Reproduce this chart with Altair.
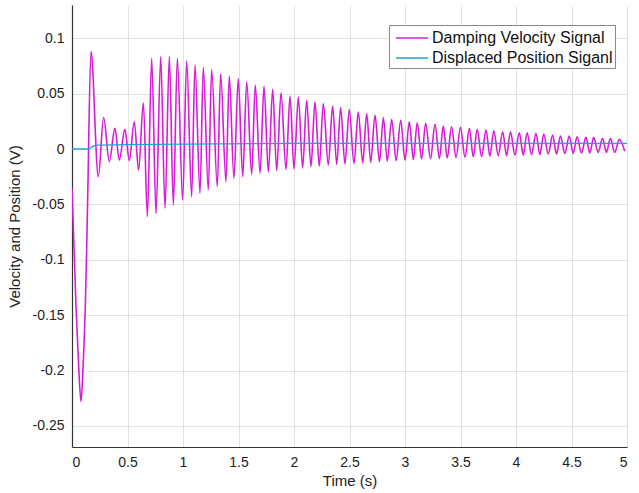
import altair as alt
import pandas as pd

# ---- Damping velocity signal ----
# initial transient
start_t = [0.0, 0.036, 0.06, 0.081, 0.10, 0.12, 0.132, 0.141, 0.171]
start_v = [-0.035, -0.142, -0.196, -0.228, -0.196, -0.142, -0.091, -0.046, 0.088]

# small early oscillation
early_t = [0.237, 0.285, 0.336, 0.387, 0.426, 0.477, 0.516, 0.561, 0.600, 0.643]
early_v = [-0.025, 0.0285, -0.0114, 0.0186, -0.010, 0.0177, -0.0105, 0.0246, -0.019, 0.0417]

# peaks of the decaying oscillation
peak_t = [0.718, 0.799, 0.877, 0.949, 1.033, 1.108, 1.183, 1.258, 1.339, 1.417,
          1.498, 1.574, 1.651, 1.730, 1.808, 1.883, 1.964, 2.039, 2.114, 2.189,
          2.264, 2.348, 2.420, 2.498, 2.579, 2.655, 2.730, 2.805, 2.880, 2.961,
          3.039, 3.110, 3.186, 3.270, 3.345, 3.420, 3.500, 3.580, 3.650, 3.730,
          3.800, 3.880, 3.950, 4.030, 4.100, 4.180, 4.250, 4.330, 4.400, 4.480,
          4.550, 4.630, 4.700, 4.780, 4.850, 4.930]
peak_v = [0.0817, 0.0832, 0.0832, 0.0817, 0.0796, 0.0757, 0.0736, 0.0718, 0.0682, 0.0658,
          0.0637, 0.0607, 0.0577, 0.0568, 0.0538, 0.0507, 0.0477, 0.0470, 0.0440, 0.0426,
          0.0410, 0.0387, 0.0375, 0.0357, 0.0336, 0.0321, 0.0306, 0.0285, 0.0267, 0.0260,
          0.0246, 0.0237, 0.0231, 0.0222, 0.0207, 0.0201, 0.0195, 0.0186, 0.0177, 0.0171,
          0.0165, 0.0156, 0.0156, 0.0147, 0.0147, 0.0141, 0.0135, 0.0126, 0.0117, 0.0117,
          0.0111, 0.0105, 0.0105, 0.0096, 0.0096, 0.0087]

# troughs of the decaying oscillation
trough_t = [0.679, 0.757, 0.838, 0.913, 0.997, 1.078, 1.153, 1.228, 1.309, 1.387,
            1.459, 1.538, 1.619, 1.694, 1.769, 1.844, 1.928, 2.000, 2.078, 2.153,
            2.228, 2.309, 2.385, 2.459, 2.540, 2.619, 2.691, 2.770, 2.840, 2.920,
            3.000, 3.075, 3.150, 3.230, 3.310, 3.380, 3.460, 3.540, 3.615, 3.690,
            3.765, 3.840, 3.915, 3.990, 4.065, 4.140, 4.215, 4.290, 4.365, 4.440,
            4.515, 4.590, 4.665, 4.740, 4.815, 4.890, 4.980]
trough_v = [-0.061, -0.058, -0.0535, -0.0505, -0.046, -0.043, -0.040, -0.037, -0.034, -0.0295,
            -0.0264, -0.025, -0.023, -0.022, -0.021, -0.0195, -0.0185, -0.018, -0.017, -0.016,
            -0.0155, -0.0145, -0.014, -0.0135, -0.013, -0.0125, -0.012, -0.0115, -0.011, -0.0105,
            -0.010, -0.0095, -0.009, -0.0088, -0.0085, -0.008, -0.0078, -0.0075, -0.007, -0.0068,
            -0.0065, -0.006, -0.006, -0.0055, -0.0055, -0.005, -0.005, -0.0045, -0.0045, -0.004,
            -0.004, -0.0035, -0.0035, -0.003, -0.003, -0.003, -0.002]

# ---- Displaced position signal ----
pos_t = [0.0, 0.15, 0.18, 0.22, 0.5, 1.0, 2.0, 3.0, 4.0, 5.0]
pos_v = [0.0, 0.0, 0.002, 0.0035, 0.004, 0.0045, 0.005, 0.005, 0.005, 0.005]

S1 = "Damping Velocity Signal"
S2 = "Displaced Position Siganl"

vel = pd.DataFrame({
    "t": start_t + early_t + peak_t + trough_t,
    "v": start_v + early_v + peak_v + trough_v,
}).sort_values("t").reset_index(drop=True)
vel["series"] = S1
vel["order"] = range(len(vel))

pos = pd.DataFrame({"t": pos_t, "v": pos_v})
pos["series"] = S2
pos["order"] = range(len(pos))

FONT = "Liberation Sans"

x = alt.X("t:Q", title="Time (s)",
          scale=alt.Scale(domain=[0, 5], nice=False),
          axis=alt.Axis(values=[0, 0.5, 1, 1.5, 2, 2.5, 3, 3.5, 4, 4.5, 5],
                        labelExpr="toString(datum.value)"))
y = alt.Y("v:Q", title="Velocity and Position (V)",
          scale=alt.Scale(domain=[-0.269, 0.130], nice=False, zero=False),
          axis=alt.Axis(values=[-0.25, -0.2, -0.15, -0.1, -0.05, 0, 0.05, 0.1],
                        labelExpr="toString(round(datum.value*100)/100)"))
color = alt.Color("series:N",
                  scale=alt.Scale(domain=[S1, S2], range=["#d81bd8", "#1fa3d8"]),
                  legend=alt.Legend(title=None, orient="none", legendX=317, legendY=20,
                                    symbolType="M-0.6,0H2.6", symbolSize=400,
                                    symbolStrokeWidth=1.5,
                                    labelFont=FONT, labelFontSize=16, labelColor="#111",
                                    labelLimit=400,
                                    strokeColor="#888", fillColor="white",
                                    padding=2, rowPadding=1, labelOffset=19,
                                    cornerRadius=0))

line_vel = alt.Chart(vel).mark_line(interpolate="monotone", strokeWidth=1.6, clip=True).encode(
    x=x, y=y, color=color, order="order:Q")
line_pos = alt.Chart(pos).mark_line(strokeWidth=1.3, clip=True).encode(
    x=x, y=y, color=color, order="order:Q")

chart = alt.layer(line_vel, line_pos).properties(
    width=555, height=442,
    autosize=alt.AutoSizeParams(type="none"),
    padding={"left": 72, "top": 5, "right": 12, "bottom": 46},
    background="white",
).configure_view(stroke=None).configure_axis(
    labelFont=FONT, titleFont=FONT, labelFontSize=14, titleFontSize=15,
    labelColor="#222", titleColor="#222", titleFontWeight="normal",
    domainColor="#333", domainWidth=1.2,
    gridColor="#e2e2e2", gridWidth=1, ticks=False,
).configure_axisY(labelPadding=8, titlePadding=10).configure_axisX(
    labelPadding=8, titlePadding=4)

chart.save("out.html", embed_options={"renderer": "svg", "actions": False})
